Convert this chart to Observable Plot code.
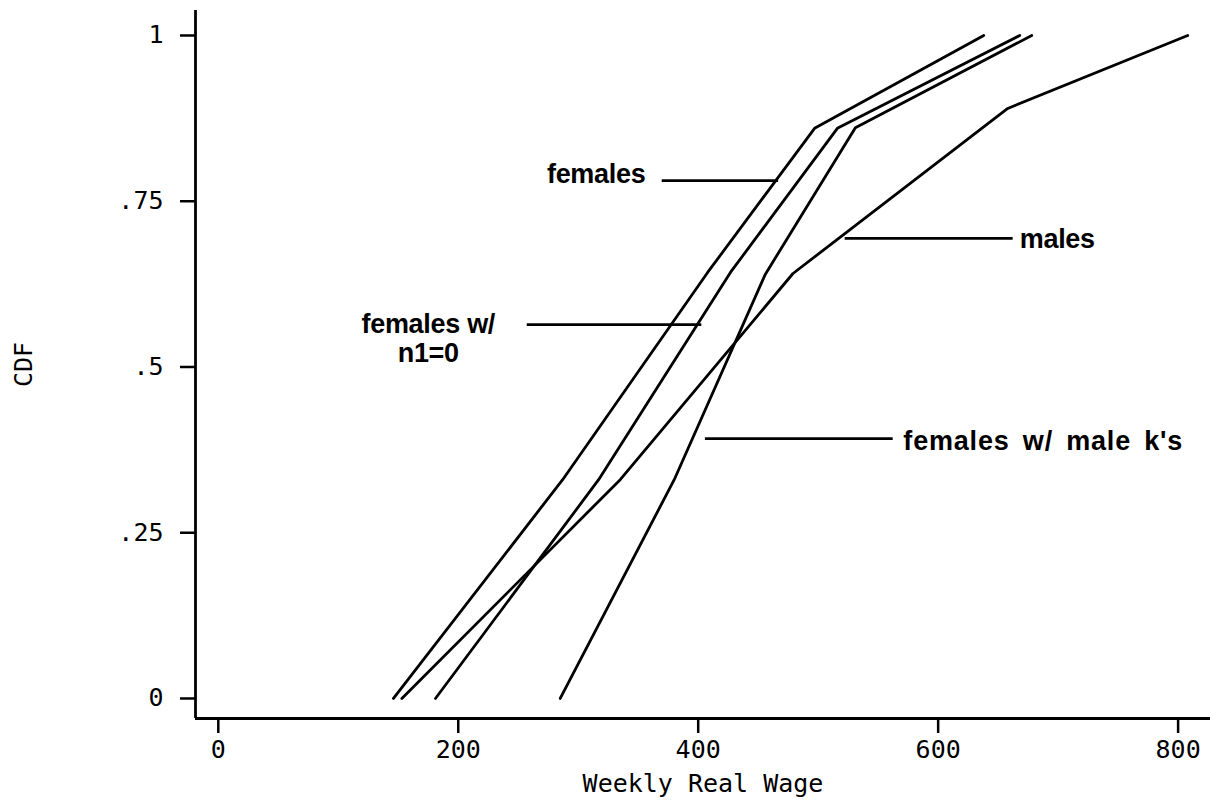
<!DOCTYPE html>
<html>
<head>
<meta charset="utf-8">
<script src="https://cdn.jsdelivr.net/npm/d3@7"></script>
<script src="https://cdn.jsdelivr.net/npm/@observablehq/plot@0.6"></script>
<style>
  html, body { margin: 0; padding: 0; background: #fff; }
</style>
</head>
<body>
<div id="chart"></div>
<script>
// ---- data ----
const seriesNames = ["females", "females w/ n1=0", "females w/ male k's", "males"];
const femalesWage   = [146, 287, 408, 497, 638];
const femalesCdf    = [0, 0.33, 0.643, 0.860, 1];
const femalesN1Wage = [181, 317, 427, 516, 668];
const femalesN1Cdf  = [0, 0.33, 0.643, 0.860, 1];
const femalesMkWage = [285, 380, 456, 531, 678];
const femalesMkCdf  = [0, 0.33, 0.640, 0.861, 1];
const malesWage     = [153, 335, 479, 658, 808];
const malesCdf      = [0, 0.33, 0.641, 0.890, 1];

const xTicks = [0, 200, 400, 600, 800];
const yTicks = [0, 0.25, 0.5, 0.75, 1];
const yTickLabels = ["0", ".25", ".5", ".75", "1"];

// annotation labels (data coordinates)
const labelTexts = ["females", "females w/\nn1=0", "males", "females w/ male k's"];
const labelAnchors = ["end", "middle", "start", "start"];
const labelX = [356, 175, 668, 571];
const labelY = [0.792, 0.544, 0.694, 0.389];
const pointerX1 = [370, 257.5, 522.5, 406];
const pointerX2 = [467, 403, 662.5, 562.5];
const pointerY  = [0.781, 0.564, 0.694, 0.392];

// ---- build tables ----
const seriesWages = [femalesWage, femalesN1Wage, femalesMkWage, malesWage];
const seriesCdfs  = [femalesCdf, femalesN1Cdf, femalesMkCdf, malesCdf];
const lineRows = seriesNames.flatMap((s, i) =>
  seriesWages[i].map((w, j) => ({series: s, wage: w, cdf: seriesCdfs[i][j]})));
const labelRows = labelTexts.map((t, i) => ({text: t, anchor: labelAnchors[i], x: labelX[i], y: labelY[i]}));
const pointerRows = labelTexts.map((t, i) => ({x1: pointerX1[i], x2: pointerX2[i], y: pointerY[i]}));
const yLabelMap = new Map(yTicks.map((v, i) => [v, yTickLabels[i]]));

const xDomain = [-19, 827];
const yDomain = [-0.0302, 1.0377];

const axisFont = "DejaVu Sans Mono, monospace";
const labelFont = "Liberation Sans, Arial, Helvetica, sans-serif";

const chart = Plot.plot({
  width: 1210,
  height: 803,
  marginLeft: 195,
  marginRight: 0,
  marginTop: 10,
  marginBottom: 85,
  x: {domain: xDomain},
  y: {domain: yDomain},
  style: {background: "#fff", color: "#000", fontFamily: axisFont},
  marks: [
    Plot.axisX({
      ticks: xTicks, tickSize: 15, tickPadding: 7, strokeWidth: 2.5,
      fontSize: 25, fontFamily: axisFont, label: null, tickFormat: d => String(d)
    }),
    Plot.axisY({
      ticks: yTicks, tickSize: 15, tickPadding: 17, strokeWidth: 2.5,
      fontSize: 25, fontFamily: axisFont, label: null, tickFormat: d => yLabelMap.get(d)
    }),
    Plot.ruleX([xDomain[0]], {stroke: "#000", strokeWidth: 2.8}),
    Plot.ruleY([yDomain[0]], {stroke: "#000", strokeWidth: 2.8}),
    Plot.text(["Weekly Real Wage"], {
      frameAnchor: "bottom", dy: 65, lineAnchor: "middle",
      fontSize: 25, fontFamily: axisFont, fill: "#000"
    }),
    Plot.text(["CDF"], {
      frameAnchor: "left", dx: -172, rotate: -90, textAnchor: "middle", lineAnchor: "middle",
      fontSize: 25, fontFamily: axisFont, fill: "#000"
    }),
    Plot.line(lineRows, {
      x: "wage", y: "cdf", z: "series", stroke: "#000", strokeWidth: 2.8,
      strokeLinejoin: "round", strokeLinecap: "round"
    }),
    Plot.ruleY(pointerRows, {y: "y", x1: "x1", x2: "x2", stroke: "#000", strokeWidth: 2.8}),
    ...labelRows.map(d => Plot.text([d], {
      x: "x", y: "y", text: "text", textAnchor: d.anchor, lineAnchor: "middle", lineHeight: 1.08,
      fontSize: 27, fontWeight: "bold", fontFamily: labelFont, fill: "#000",
      className: d.text.length > 15 ? "wide-label" : "tight-label"
    }))
  ]
});
// spacing tweaks for the annotation labels
d3.select(chart).selectAll(".wide-label text")
  .style("letter-spacing", "0.8px").style("word-spacing", "5px");
d3.select(chart).selectAll(".tight-label text")
  .style("letter-spacing", "-0.3px");
document.getElementById("chart").appendChild(chart);
</script>
</body>
</html>
